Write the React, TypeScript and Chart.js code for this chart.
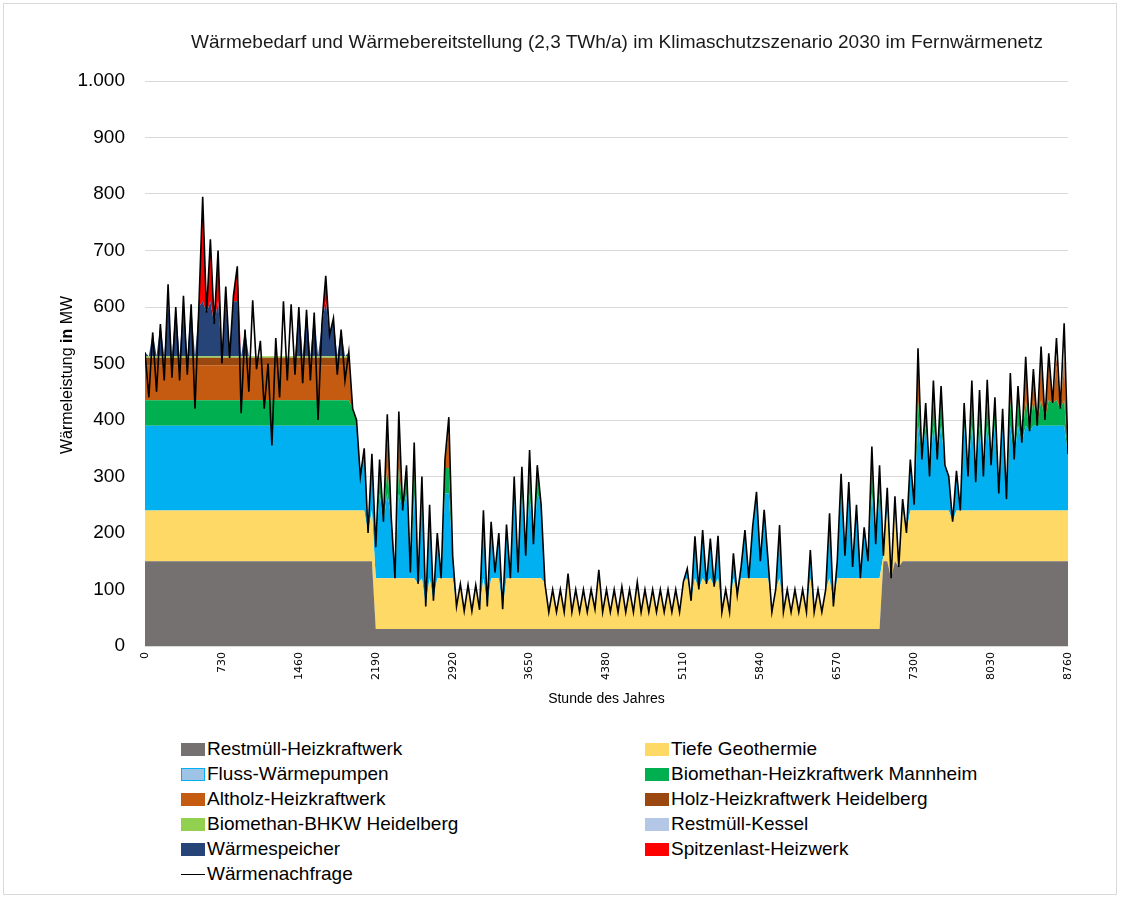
import React, { useEffect, useRef } from "react";
import { Chart, registerables } from "chart.js";

Chart.register(...registerables);

// ---------- data ----------
const STEP_HOURS = 36.5; // spacing of the demand samples

// Wärmenachfrage (MW), one value every 36.5 h from hour 0 to 8760
const demand = [
  520, 440, 555, 450, 570, 470, 640, 475, 600, 470,
  620, 480, 605, 420, 600, 795, 590, 720, 570, 700,
  500, 636, 510, 620, 672, 412, 560, 450, 612, 490,
  540, 420, 500, 355, 545, 440, 610, 470, 605, 480,
  600, 465, 595, 470, 590, 400, 570, 655, 550, 580,
  480, 560, 470, 520, 420, 400, 300, 350, 200, 340,
  175, 330, 220, 410, 230, 120, 415, 240, 320, 130,
  360, 110, 300, 70, 250, 80, 200, 120, 330, 405,
  160, 70, 110, 62, 108, 62, 108, 64, 240, 70,
  220, 130, 200, 65, 215, 120, 300, 130, 317, 160,
  347, 180, 320, 250, 110, 60, 100, 60, 100, 60,
  128, 60, 100, 60, 100, 60, 100, 65, 135, 60,
  100, 60, 100, 60, 105, 60, 100, 60, 113, 60,
  100, 60, 100, 60, 100, 60, 100, 60, 100, 60,
  114, 137, 80, 194, 100, 205, 110, 190, 105, 195,
  60, 100, 60, 164, 90, 140, 205, 120, 211, 273,
  150, 241, 152, 60, 100, 214, 60, 100, 60, 100,
  60, 100, 60, 170, 60, 100, 60, 100, 235, 70,
  150, 305, 160, 290, 140, 250, 120, 210, 150, 353,
  180, 320, 160, 280, 120, 265, 140, 260, 200, 330,
  250, 527, 330, 430, 300, 470, 330, 460, 320, 300,
  220, 310, 240, 430, 300, 470, 290, 453, 300, 471,
  320, 440, 270, 420, 260, 483, 330, 460, 360, 512,
  380, 490, 390, 530, 400, 518, 430, 545, 420, 571, 340,
];

// capacities of the generating units (MW)
const periodStarts = [0, 2180, 6990];
const restmuellLevels = [150, 30, 150];
const geothermieCap = 90;
const flussCap = 150;
const biomethanMaCap = 45;
const altholzCap = 62;
const holzHdCap = 13;
const bhkwCap = 3;
const kesselCap = 0;
const speicherCap = 97;
const mustRunEnd = 1950; // base units run at full output until this hour
const speicherWindows = [[0, 1000], [1450, 1950]];
const spitzenWindows = [[500, 950], [1550, 1750]];

const xTicks = [0, 730, 1460, 2190, 2920, 3650, 4380, 5110, 5840, 6570, 7300, 8030, 8760];
const yTicks = [0, 100, 200, 300, 400, 500, 600, 700, 800, 900, 1000];

const sourceLabels = [
  "Restmüll-Heizkraftwerk",
  "Tiefe Geothermie",
  "Fluss-Wärmepumpen",
  "Biomethan-Heizkraftwerk Mannheim",
  "Altholz-Heizkraftwerk",
  "Holz-Heizkraftwerk Heidelberg",
  "Biomethan-BHKW Heidelberg",
  "Restmüll-Kessel",
  "Wärmespeicher",
  "Spitzenlast-Heizwerk",
];
const sourceColors = [
  "#767171",
  "#FFD966",
  "#00B0F0",
  "#00B050",
  "#C55A11",
  "#9A4710",
  "#92D050",
  "#B4C7E7",
  "#264478",
  "#FF0000",
];
const legendColors = [
  "#767171",
  "#FFD966",
  "#9DC3E6",
  "#00B050",
  "#C55A11",
  "#9A4710",
  "#92D050",
  "#B4C7E7",
  "#264478",
  "#FF0000",
];
const demandLabel = "Wärmenachfrage";
const titleText =
  "Wärmebedarf und Wärmebereitstellung (2,3 TWh/a) im Klimaschutzszenario 2030 im Fernwärmenetz";

const FONT = "'Liberation Sans', Arial, sans-serif";

function inWindows(t: number, w: number[][]) {
  return w.some(([a, b]) => t >= a && t < b);
}

function dispatch(t: number, d: number): number[] {
  let p = 0;
  periodStarts.forEach((s, k) => {
    if (t >= s) p = k;
  });
  const caps = [
    restmuellLevels[p],
    geothermieCap,
    flussCap,
    biomethanMaCap,
    altholzCap,
    holzHdCap,
    bhkwCap,
    kesselCap,
  ];
  const baseSum = caps.reduce((a, b) => a + b, 0);
  let rem = t < mustRunEnd ? Math.max(d, baseSum) : d;
  const out: number[] = [];
  caps.forEach((c) => {
    const v = Math.max(0, Math.min(rem, c));
    out.push(v);
    rem -= v;
  });
  const sp = inWindows(t, speicherWindows) ? Math.max(0, Math.min(rem, speicherCap)) : 0;
  rem -= sp;
  const pk = inWindows(t, spitzenWindows) ? Math.max(0, rem) : 0;
  out.push(sp, pk);
  return out;
}

const yTitlePlugin = {
  id: "yTitleMixed",
  afterDraw(chart: any) {
    const ctx = chart.ctx as CanvasRenderingContext2D;
    const parts: [string, string][] = [
      ["Wärmeleistung ", "normal"],
      ["in", "bold"],
      [" MW", "normal"],
    ];
    ctx.save();
    let total = 0;
    const widths = parts.map(([s, w]) => {
      ctx.font = `${w} 16px ${FONT}`;
      const m = ctx.measureText(s).width;
      total += m;
      return m;
    });
    ctx.translate(68, 375);
    ctx.rotate(-Math.PI / 2);
    ctx.fillStyle = "#000";
    ctx.textBaseline = "middle";
    ctx.textAlign = "left";
    let x = -total / 2;
    parts.forEach(([s, w], i) => {
      ctx.font = `${w} 16px ${FONT}`;
      ctx.fillText(s, x, 0);
      x += widths[i];
    });
    ctx.restore();
  },
};

function fmtDe(v: number) {
  return String(v).replace(/\B(?=(\d{3})+(?!\d))/g, ".");
}

export default function App() {
  const ref = useRef<HTMLCanvasElement>(null);

  useEffect(() => {
    document.body.style.margin = "0";
    const hours = demand.map((_, i) => i * STEP_HOURS);
    const layers = hours.map((t, i) => dispatch(t, demand[i]));
    const datasets: any[] = sourceLabels.map((label, k) => ({
      label,
      data: hours.map((t, i) => ({ x: t, y: layers[i][k] })),
      backgroundColor: sourceColors[k],
      borderColor: sourceColors[k],
      borderWidth: 0,
      pointRadius: 0,
      fill: k === 0 ? "origin" : "-1",
      stack: "supply",
      order: 1,
      tension: 0,
    }));
    datasets.push({
      label: demandLabel,
      data: hours.map((t, i) => ({ x: t, y: demand[i] })),
      borderColor: "#000",
      backgroundColor: "#000",
      borderWidth: 1.6,
      pointRadius: 0,
      fill: false,
      stack: "demand",
      order: 0,
      tension: 0,
    });

    const chart = new Chart(ref.current as HTMLCanvasElement, {
      type: "line",
      data: { datasets },
      plugins: [yTitlePlugin],
      options: {
        animation: false,
        responsive: false,
        events: [],
        layout: { padding: { top: 81, right: 53, left: 0, bottom: 0 } },
        plugins: {
          legend: { display: false },
          tooltip: { enabled: false },
          title: { display: false },
        },
        scales: {
          x: {
            type: "linear",
            min: 0,
            max: 8760,
            afterFit: (s: any) => {
              s.height = 74;
            },
            afterBuildTicks: (s: any) => {
              s.ticks = xTicks.map((v) => ({ value: v }));
            },
            grid: { display: false, drawTicks: false },
            border: { display: false },
            ticks: {
              autoSkip: false,
              minRotation: 90,
              maxRotation: 90,
              padding: 6,
              color: "#000",
              font: { family: "'DejaVu Sans', sans-serif", size: 11 },
              callback: (v: any) => String(v),
            },
            title: {
              display: true,
              text: "Stunde des Jahres",
              color: "#000",
              font: { family: FONT, size: 14 },
              padding: { top: 0, bottom: 12 },
            },
          },
          y: {
            type: "linear",
            stacked: true,
            min: 0,
            max: 1000,
            afterFit: (s: any) => {
              s.width = 145;
            },
            afterBuildTicks: (s: any) => {
              s.ticks = yTicks.map((v) => ({ value: v }));
            },
            grid: { color: "#D9D9D9", lineWidth: 1, drawTicks: false },
            border: { display: false },
            ticks: {
              padding: 20,
              color: "#000",
              font: { family: FONT, size: 19 },
              callback: (v: any) => fmtDe(Number(v)),
            },
          },
        },
      },
    } as any);
    return () => chart.destroy();
  }, []);

  const rows: { label: string; color: string; line?: boolean; border?: string }[][] = [];
  const items = sourceLabels.map((l, k) => ({
    label: l,
    color: legendColors[k],
    border: k === 2 ? "#00B0F0" : undefined,
  }));
  const all = [...items, { label: demandLabel, color: "#000", line: true }];
  for (let i = 0; i < all.length; i += 2) rows.push(all.slice(i, i + 2));

  return (
    <div
      style={{
        position: "relative",
        width: 1121,
        height: 899,
        background: "#fff",
        fontFamily: FONT,
        overflow: "hidden",
      }}
    >
      <div
        style={{
          position: "absolute",
          left: 3,
          top: 3,
          width: 1114,
          height: 892,
          border: "1px solid #D9D9D9",
          boxSizing: "border-box",
        }}
      />
      <canvas
        ref={ref}
        width={1121}
        height={720}
        style={{ position: "absolute", left: 0, top: 0, width: 1121, height: 720 }}
      />
      <div
        style={{
          position: "absolute",
          left: 117,
          top: 31,
          width: 1000,
          textAlign: "center",
          fontSize: 19,
          color: "#1a1a1a",
          whiteSpace: "nowrap",
        }}
      >
        {titleText}
      </div>
      {rows.map((row, r) =>
        row.map((it, c) => (
          <div
            key={`${r}-${c}`}
            style={{
              position: "absolute",
              left: c === 0 ? 181 : 645,
              top: 737 + r * 25,
              height: 24,
              display: "flex",
              alignItems: "center",
              whiteSpace: "nowrap",
              fontSize: 19,
              color: "#000",
            }}
          >
            {it.line ? (
              <span
                style={{
                  display: "inline-block",
                  width: 24,
                  height: 0,
                  borderTop: "1.5px solid #000",
                  marginRight: 2,
                }}
              />
            ) : (
              <span
                style={{
                  display: "inline-block",
                  width: 24,
                  height: 13,
                  background: it.color,
                  boxSizing: "border-box",
                  border: it.border ? `1px solid ${it.border}` : "none",
                  marginRight: 2,
                }}
              />
            )}
            <span>{it.label}</span>
          </div>
        ))
      )}
    </div>
  );
}
